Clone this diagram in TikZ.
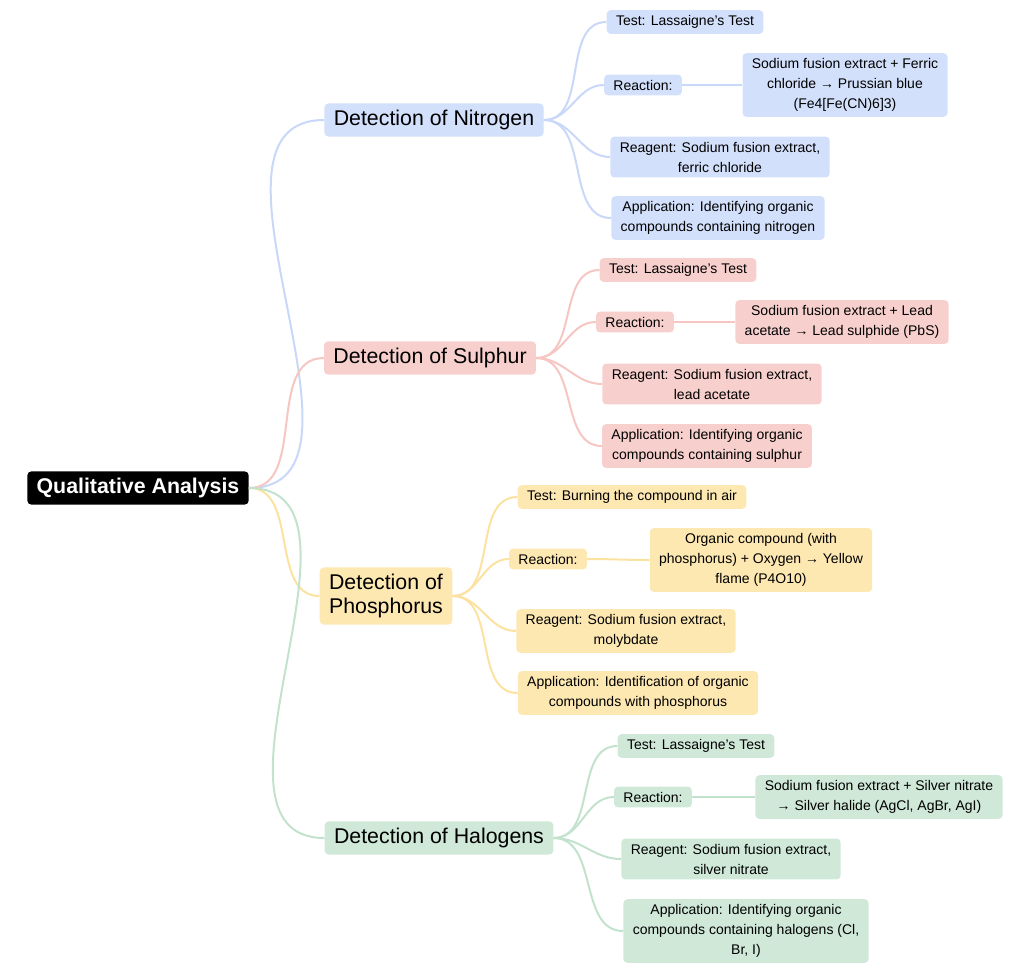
\documentclass[tikz,border=0pt]{standalone}
\usepackage{fontspec}
\setmainfont{Liberation Sans}
\usepackage{tikz}
\usetikzlibrary{positioning}
\definecolor{nblue}{HTML}{D3E0FB}
\definecolor{eblue}{HTML}{C9D8F8}
\definecolor{spink}{HTML}{F7D0CD}
\definecolor{epink}{HTML}{F5C6C2}
\definecolor{pyel}{HTML}{FDE8B2}
\definecolor{eyel}{HTML}{FCE2A0}
\definecolor{hgrn}{HTML}{CFE8D8}
\definecolor{egrn}{HTML}{C3E2CE}

\begin{document}
\begin{tikzpicture}[x=0.75pt, y=-0.75pt,
    root/.style={fill=black, text=white, rounded corners=3pt, font=\fontsize{16}{19}\selectfont\bfseries, inner xsep=7pt, inner ysep=5pt},
    topic/.style={rounded corners=3pt, font=\fontsize{16}{18}\selectfont, align=center, inner xsep=7pt, inner ysep=5pt},
    leaf/.style={rounded corners=3pt, font=\fontsize{10.5}{15}\selectfont, align=center, inner xsep=7pt, inner ysep=4pt},
    % Edge styles
    link/.style={line width=1.5pt, out=0, in=180},
    ]
    \useasboundingbox (0,0) rectangle (1024,975);

    % Root
    \node[root] (qa) at (138,488) {Qualitative Analysis};

    % Nitrogen
    \node[topic, fill=nblue] (nit) at (434,120) {Detection of Nitrogen};
    \node[leaf, fill=nblue] (nit_t) at (685,22) {Test: Lassaigne’s Test};
    \node[leaf, fill=nblue] (nit_r) at (643,85) {Reaction:};
    \node[leaf, fill=nblue] (nit_rd) at (845,85) {Sodium fusion extract + Ferric\\chloride → Prussian blue\\(Fe4[Fe(CN)6]3)};
    \node[leaf, fill=nblue] (nit_g) at (720,157) {Reagent: Sodium fusion extract,\\ferric chloride};
    \node[leaf, fill=nblue] (nit_a) at (718,218) {Application: Identifying organic\\compounds containing nitrogen};

    % Sulphur
    \node[topic, fill=spink] (sul) at (430,358) {Detection of Sulphur};
    \node[leaf, fill=spink] (sul_t) at (678,270) {Test: Lassaigne’s Test};
    \node[leaf, fill=spink] (sul_r) at (635,322) {Reaction:};
    \node[leaf, fill=spink] (sul_rd) at (842,322) {Sodium fusion extract + Lead\\acetate → Lead sulphide (PbS)};
    \node[leaf, fill=spink] (sul_g) at (712,384) {Reagent: Sodium fusion extract,\\lead acetate};
    \node[leaf, fill=spink] (sul_a) at (707,446) {Application: Identifying organic\\compounds containing sulphur};

    % Phosphorus
    \node[topic, fill=pyel] (pho) at (386,596) {Detection of\\Phosphorus};
    \node[leaf, fill=pyel] (pho_t) at (632,497) {Test: Burning the compound in air};
    \node[leaf, fill=pyel] (pho_r) at (548,559) {Reaction:};
    \node[leaf, fill=pyel] (pho_rd) at (761,560) {Organic compound (with\\phosphorus) + Oxygen → Yellow\\flame (P4O10)};
    \node[leaf, fill=pyel] (pho_g) at (626,631) {Reagent: Sodium fusion extract,\\molybdate};
    \node[leaf, fill=pyel] (pho_a) at (638,693) {Application: Identification of organic\\compounds with phosphorus};

    % Halogens
    \node[topic, fill=hgrn] (hal) at (439,838) {Detection of Halogens};
    \node[leaf, fill=hgrn] (hal_t) at (696,746) {Test: Lassaigne’s Test};
    \node[leaf, fill=hgrn] (hal_r) at (653,797) {Reaction:};
    \node[leaf, fill=hgrn] (hal_rd) at (879,797) {Sodium fusion extract + Silver nitrate\\→ Silver halide (AgCl, AgBr, AgI)};
    \node[leaf, fill=hgrn] (hal_g) at (731,859) {Reagent: Sodium fusion extract,\\silver nitrate};
    \node[leaf, fill=hgrn] (hal_a) at (746,931) {Application: Identifying organic\\compounds containing halogens (Cl,\\Br, I)};

    % Root connections
    \draw[link, eblue] (qa.east) to (nit.west);
    \draw[link, epink] (qa.east) to (sul.west);
    \draw[link, eyel] (qa.east) to (pho.west);
    \draw[link, egrn] (qa.east) to (hal.west);

    % Nitrogen connections
    \draw[link, eblue] (nit.east) to (nit_t.west);
    \draw[link, eblue] (nit.east) to (nit_r.west);
    \draw[link, eblue] (nit.east) to (nit_g.west);
    \draw[link, eblue] (nit.east) to (nit_a.west);
    \draw[link, eblue] (nit_r.east) to (nit_rd.west);

    % Sulphur connections
    \draw[link, epink] (sul.east) to (sul_t.west);
    \draw[link, epink] (sul.east) to (sul_r.west);
    \draw[link, epink] (sul.east) to (sul_g.west);
    \draw[link, epink] (sul.east) to (sul_a.west);
    \draw[link, epink] (sul_r.east) to (sul_rd.west);

    % Phosphorus connections
    \draw[link, eyel] (pho.east) to (pho_t.west);
    \draw[link, eyel] (pho.east) to (pho_r.west);
    \draw[link, eyel] (pho.east) to (pho_g.west);
    \draw[link, eyel] (pho.east) to (pho_a.west);
    \draw[link, eyel] (pho_r.east) to (pho_rd.west);

    % Halogen connections
    \draw[link, egrn] (hal.east) to (hal_t.west);
    \draw[link, egrn] (hal.east) to (hal_r.west);
    \draw[link, egrn] (hal.east) to (hal_g.west);
    \draw[link, egrn] (hal.east) to (hal_a.west);
    \draw[link, egrn] (hal_r.east) to (hal_rd.west);
\end{tikzpicture}
\end{document}
